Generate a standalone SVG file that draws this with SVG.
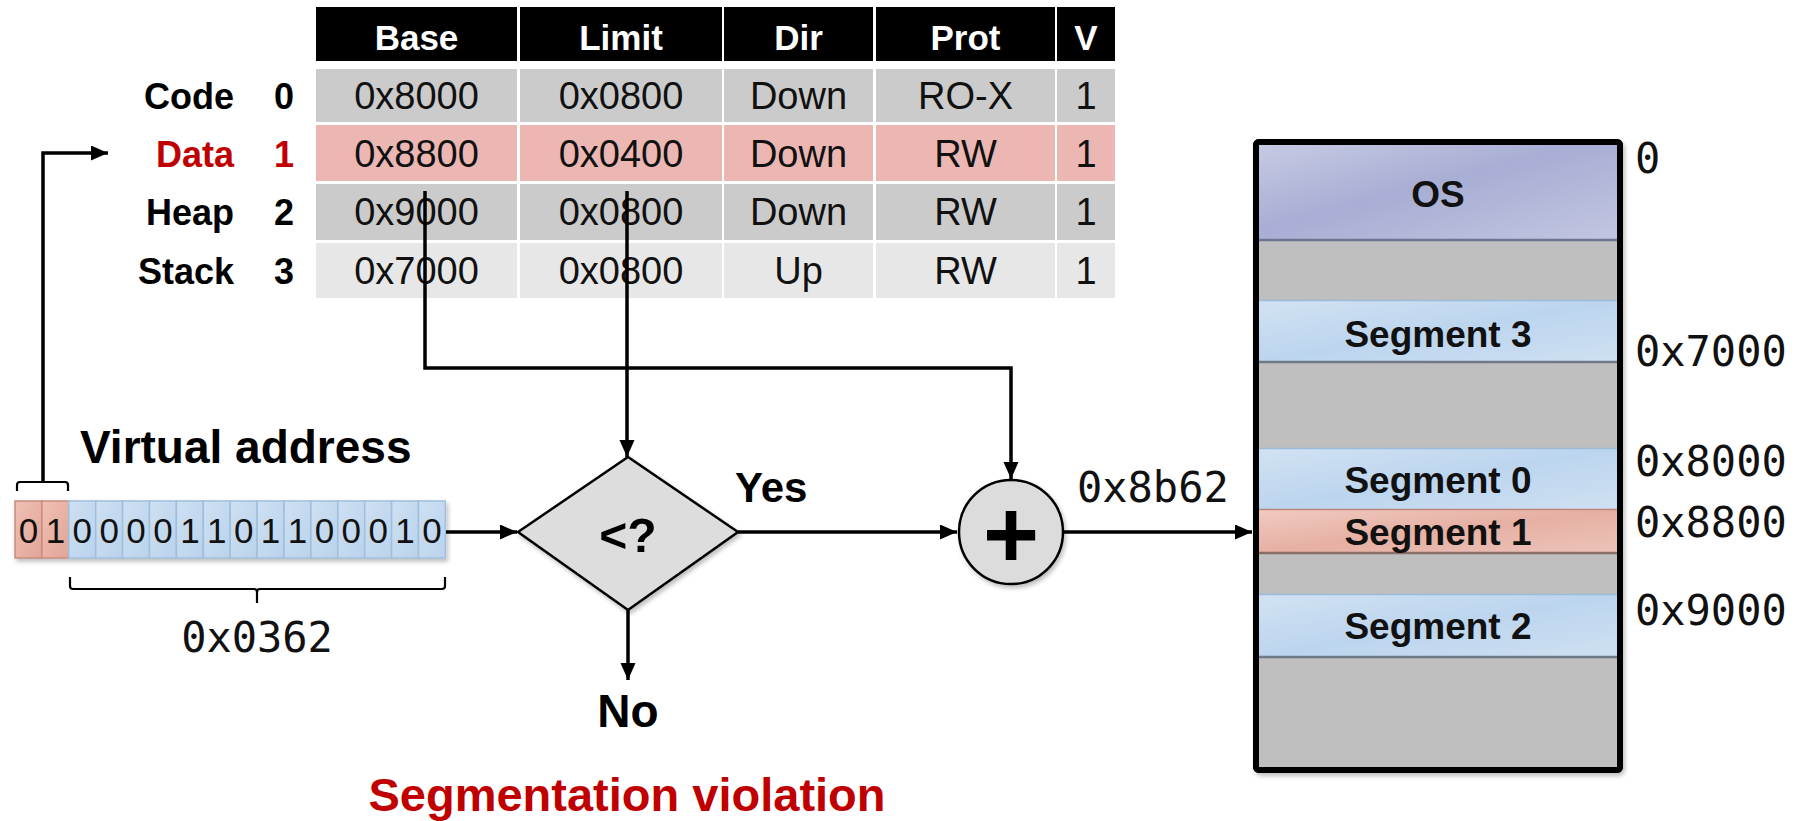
<svg xmlns="http://www.w3.org/2000/svg" width="1806" height="821" viewBox="0 0 1806 821">
<defs>
<style>
.s{font-family:"Liberation Sans",Arial,sans-serif}
.b{font-family:"Liberation Sans",Arial,sans-serif;font-weight:bold}
.m{font-family:"DejaVu Sans Mono","Liberation Mono",monospace}
.hd{fill:#000}
.hdt{fill:#fff;font-size:35px;text-anchor:middle}
.cell{font-size:38px;text-anchor:middle;fill:#111}
.rl{font-size:36px;text-anchor:end}
.rn{font-size:36px;text-anchor:middle}
.red{fill:#c00000}
.g1{fill:#cbcbcb}
.p1{fill:#ecb7b3}
.g3{fill:#e7e7e7}
.bitb{fill:url(#blueBit);stroke:#9fbfdc;stroke-width:1.5}
.bitr{fill:url(#redBit);stroke:#c98b7e;stroke-width:1.5}
.bitt{font-size:35px;text-anchor:middle;fill:#111}
.ln{fill:none;stroke:#000;stroke-width:3.5}
.arr{fill:none;stroke:#000;stroke-width:3.5;marker-end:url(#ah)}
.br{fill:none;stroke:#000;stroke-width:2.2}
.seg{font-size:37px;text-anchor:middle;fill:#111}
.addr{font-size:42px;fill:#111}
.bandb{fill:url(#blueBand)}
.bandr{fill:url(#redBand)}
</style>
<marker id="ah" markerUnits="userSpaceOnUse" markerWidth="18" markerHeight="16" refX="17" refY="7.5" orient="auto">
<path d="M0,0 L17,7.5 L0,15 z" fill="#000"/>
</marker>
<filter id="sh" x="-10%" y="-10%" width="130%" height="130%">
<feDropShadow dx="2" dy="3" stdDeviation="2" flood-color="#000" flood-opacity="0.25"/>
</filter>
<linearGradient id="blueBit" x1="0" y1="0" x2="1" y2="1">
<stop offset="0" stop-color="#cfe0f2"/><stop offset="1" stop-color="#b9d3ec"/>
</linearGradient>
<linearGradient id="redBit" x1="0" y1="0" x2="1" y2="1">
<stop offset="0" stop-color="#efc0b5"/><stop offset="1" stop-color="#e2a595"/>
</linearGradient>
<linearGradient id="osGrad" x1="0" y1="0" x2="1" y2="1">
<stop offset="0" stop-color="#c6cae3"/><stop offset="0.45" stop-color="#a8aed4"/><stop offset="1" stop-color="#c2c6e1"/>
</linearGradient>
<linearGradient id="blueBand" x1="0" y1="0" x2="1" y2="1">
<stop offset="0" stop-color="#d2e2f3"/><stop offset="0.5" stop-color="#bcd5ee"/><stop offset="1" stop-color="#cfe0f2"/>
</linearGradient>
<linearGradient id="redBand" x1="0" y1="0" x2="1" y2="1">
<stop offset="0" stop-color="#f1cbc2"/><stop offset="0.5" stop-color="#e6b0a3"/><stop offset="1" stop-color="#edc3b9"/>
</linearGradient>
</defs>
<rect x="0" y="0" width="1806" height="821" fill="#fff"/>

<g id="table">
<g id="table-header">
<rect class="hd" x="316" y="7" width="201" height="54"/>
<rect class="hd" x="520" y="7" width="202" height="54"/>
<rect class="hd" x="724" y="7" width="149" height="54"/>
<rect class="hd" x="876" y="7" width="179" height="54"/>
<rect class="hd" x="1057" y="7" width="58" height="54"/>
<text class="b hdt" x="416.5" y="50">Base</text>
<text class="b hdt" x="621" y="50">Limit</text>
<text class="b hdt" x="798.5" y="50">Dir</text>
<text class="b hdt" x="965.5" y="50">Prot</text>
<text class="b hdt" x="1086" y="50">V</text>
</g>
<g id="row-code">
<rect class="g1" x="316" y="69" width="201" height="53"/>
<rect class="g1" x="520" y="69" width="202" height="53"/>
<rect class="g1" x="724" y="69" width="149" height="53"/>
<rect class="g1" x="876" y="69" width="179" height="53"/>
<rect class="g1" x="1057" y="69" width="58" height="53"/>
<text class="b rl" x="234" y="109">Code</text>
<text class="b rn" x="284" y="109">0</text>
<text class="s cell" x="416.5" y="109">0x8000</text>
<text class="s cell" x="621" y="109">0x0800</text>
<text class="s cell" x="798.5" y="109">Down</text>
<text class="s cell" x="965.5" y="109">RO-X</text>
<text class="s cell" x="1086" y="109">1</text>
</g>
<g id="row-data">
<rect class="p1" x="316" y="125" width="201" height="56"/>
<rect class="p1" x="520" y="125" width="202" height="56"/>
<rect class="p1" x="724" y="125" width="149" height="56"/>
<rect class="p1" x="876" y="125" width="179" height="56"/>
<rect class="p1" x="1057" y="125" width="58" height="56"/>
<text class="b rl red" x="234" y="167">Data</text>
<text class="b rn red" x="284" y="167">1</text>
<text class="s cell" x="416.5" y="167">0x8800</text>
<text class="s cell" x="621" y="167">0x0400</text>
<text class="s cell" x="798.5" y="167">Down</text>
<text class="s cell" x="965.5" y="167">RW</text>
<text class="s cell" x="1086" y="167">1</text>
</g>
<g id="row-heap">
<rect class="g1" x="316" y="184" width="201" height="56"/>
<rect class="g1" x="520" y="184" width="202" height="56"/>
<rect class="g1" x="724" y="184" width="149" height="56"/>
<rect class="g1" x="876" y="184" width="179" height="56"/>
<rect class="g1" x="1057" y="184" width="58" height="56"/>
<text class="b rl" x="234" y="225">Heap</text>
<text class="b rn" x="284" y="225">2</text>
<text class="s cell" x="416.5" y="225">0x9000</text>
<text class="s cell" x="621" y="225">0x0800</text>
<text class="s cell" x="798.5" y="225">Down</text>
<text class="s cell" x="965.5" y="225">RW</text>
<text class="s cell" x="1086" y="225">1</text>
</g>
<g id="row-stack">
<rect class="g3" x="316" y="243" width="201" height="55"/>
<rect class="g3" x="520" y="243" width="202" height="55"/>
<rect class="g3" x="724" y="243" width="149" height="55"/>
<rect class="g3" x="876" y="243" width="179" height="55"/>
<rect class="g3" x="1057" y="243" width="58" height="55"/>
<text class="b rl" x="234" y="284">Stack</text>
<text class="b rn" x="284" y="284">3</text>
<text class="s cell" x="416.5" y="284">0x7000</text>
<text class="s cell" x="621" y="284">0x0800</text>
<text class="s cell" x="798.5" y="284">Up</text>
<text class="s cell" x="965.5" y="284">RW</text>
<text class="s cell" x="1086" y="284">1</text>
</g>
</g>

<g id="virtual-address">
<text class="b" x="80" y="463" font-size="46">Virtual address</text>
<g filter="url(#sh)">
<rect class="bitr" x="15" y="501" width="26.9" height="57"/>
<rect class="bitr" x="41.9" y="501" width="26.9" height="57"/>
<rect class="bitb" x="68.8" y="501" width="26.9" height="57"/>
<rect class="bitb" x="95.7" y="501" width="26.9" height="57"/>
<rect class="bitb" x="122.6" y="501" width="26.9" height="57"/>
<rect class="bitb" x="149.5" y="501" width="26.9" height="57"/>
<rect class="bitb" x="176.4" y="501" width="26.9" height="57"/>
<rect class="bitb" x="203.3" y="501" width="26.9" height="57"/>
<rect class="bitb" x="230.2" y="501" width="26.9" height="57"/>
<rect class="bitb" x="257.1" y="501" width="26.9" height="57"/>
<rect class="bitb" x="284" y="501" width="26.9" height="57"/>
<rect class="bitb" x="310.9" y="501" width="26.9" height="57"/>
<rect class="bitb" x="337.8" y="501" width="26.9" height="57"/>
<rect class="bitb" x="364.7" y="501" width="26.9" height="57"/>
<rect class="bitb" x="391.6" y="501" width="26.9" height="57"/>
<rect class="bitb" x="418.5" y="501" width="26.9" height="57"/>
</g>
<text class="s bitt" x="28.5" y="543">0</text>
<text class="s bitt" x="55.4" y="543">1</text>
<text class="s bitt" x="82.3" y="543">0</text>
<text class="s bitt" x="109.2" y="543">0</text>
<text class="s bitt" x="136.1" y="543">0</text>
<text class="s bitt" x="163" y="543">0</text>
<text class="s bitt" x="189.9" y="543">1</text>
<text class="s bitt" x="216.8" y="543">1</text>
<text class="s bitt" x="243.7" y="543">0</text>
<text class="s bitt" x="270.6" y="543">1</text>
<text class="s bitt" x="297.5" y="543">1</text>
<text class="s bitt" x="324.4" y="543">0</text>
<text class="s bitt" x="351.3" y="543">0</text>
<text class="s bitt" x="378.2" y="543">0</text>
<text class="s bitt" x="405.1" y="543">1</text>
<text class="s bitt" x="432" y="543">0</text>
<path class="br" d="M17,491 V485 Q17,482 20,482 H65 Q68,482 68,485 V491"/>
<path class="br" d="M70,577 V586 Q70,589 73,589 H254 Q257,589 257,592 V603 M257,592 Q257,589 260,589 H442 Q445,589 445,586 V577"/>
<text class="m" x="257" y="652" font-size="42" text-anchor="middle" fill="#111">0x0362</text>
</g>

<g id="compare" filter="url(#sh)">
<polygon points="518,532 628,457 738,532 628,610" fill="#dddddd" stroke="#000" stroke-width="2.5"/>
<text class="b" x="628" y="552" font-size="48" text-anchor="middle">&lt;?</text>
</g>
<text class="b" x="735" y="502" font-size="42">Yes</text>
<text class="b" x="628" y="727" font-size="46" text-anchor="middle">No</text>
<text class="b red" x="627" y="811" font-size="47" text-anchor="middle">Segmentation violation</text>

<g id="adder">
<circle cx="1011" cy="532" r="52" fill="#dcdcdc" stroke="#000" stroke-width="2.5" filter="url(#sh)"/>
<text class="b" x="1011" y="568" font-size="96" text-anchor="middle">+</text>
</g>
<text class="m" x="1077" y="502" font-size="42" fill="#111">0x8b62</text>

<g id="memory">
<g filter="url(#sh)">
<rect x="1256" y="142" width="364" height="628" rx="3" fill="#bfbfbf" stroke="#000" stroke-width="6"/>
</g>
<rect x="1259" y="145" width="358" height="95" fill="url(#osGrad)"/>
<line x1="1259" y1="240" x2="1617" y2="240" stroke="#6d7690" stroke-width="2.5"/>
<rect class="bandb" x="1259" y="300" width="358" height="62"/>
<line x1="1259" y1="300.5" x2="1617" y2="300.5" stroke="#9dbad8" stroke-width="1.5"/>
<line x1="1259" y1="362" x2="1617" y2="362" stroke="#6f7a88" stroke-width="2.5"/>
<rect class="bandb" x="1259" y="448" width="358" height="61"/>
<line x1="1259" y1="448.5" x2="1617" y2="448.5" stroke="#9dbad8" stroke-width="1.5"/>
<rect class="bandr" x="1259" y="509" width="358" height="44"/>
<line x1="1259" y1="509.5" x2="1617" y2="509.5" stroke="#c0857a" stroke-width="1.5"/>
<line x1="1259" y1="553" x2="1617" y2="553" stroke="#8c6e68" stroke-width="2.5"/>
<rect class="bandb" x="1259" y="594" width="358" height="63"/>
<line x1="1259" y1="594.5" x2="1617" y2="594.5" stroke="#9dbad8" stroke-width="1.5"/>
<line x1="1259" y1="657" x2="1617" y2="657" stroke="#6f7a88" stroke-width="2.5"/>
<rect x="1256" y="142" width="364" height="628" rx="3" fill="none" stroke="#000" stroke-width="6"/>
<text class="b seg" x="1438" y="207">OS</text>
<text class="b seg" x="1438" y="347">Segment 3</text>
<text class="b seg" x="1438" y="493">Segment 0</text>
<text class="b seg" x="1438" y="545">Segment 1</text>
<text class="b seg" x="1438" y="639">Segment 2</text>
</g>
<g id="memory-addresses">
<text class="m addr" x="1635" y="173">0</text>
<text class="m addr" x="1635" y="366">0x7000</text>
<text class="m addr" x="1635" y="476">0x8000</text>
<text class="m addr" x="1635" y="537">0x8800</text>
<text class="m addr" x="1635" y="625">0x9000</text>
</g>

<g id="connectors">
<path class="arr" d="M43,482 V153 H108"/>
<path class="arr" d="M446,532 H517"/>
<path class="arr" d="M627,191 V457"/>
<path class="arr" d="M425,191 V368 H1011 V479"/>
<path class="arr" d="M738,532 H957"/>
<path class="arr" d="M628,610 V680"/>
<path class="arr" d="M1063,532 H1252"/>
</g>
</svg>
